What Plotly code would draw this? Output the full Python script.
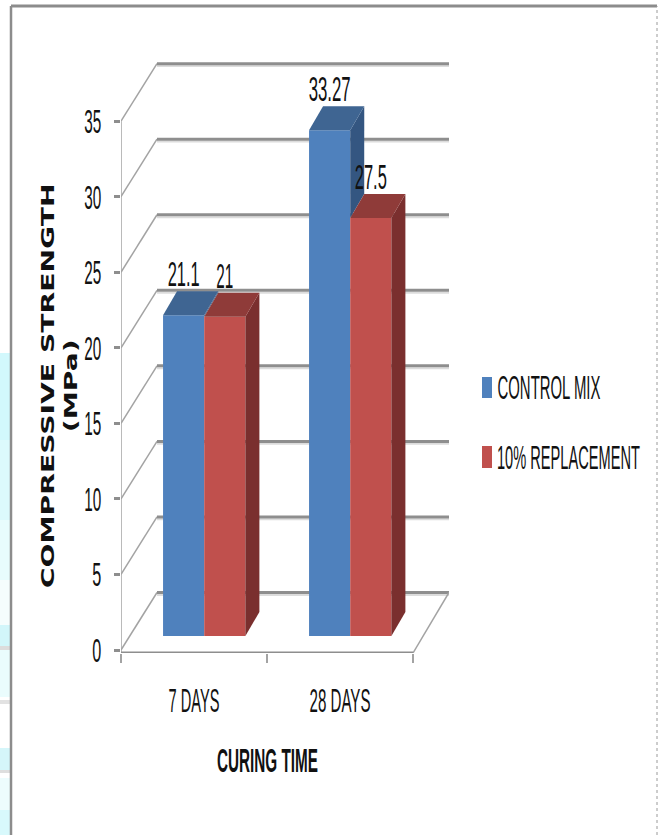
import json

import plotly.graph_objects as go

categories = ["7 DAYS", "28 DAYS"]
control_mix = [21.1, 33.27]
replacement = [21, 27.5]
value_labels_control = ["21.1", "33.27"]
value_labels_replacement = ["21", "27.5"]
y_ticks = [0, 5, 10, 15, 20, 25, 30, 35]

BLUE, BLUE_TOP, BLUE_SIDE = "#4f81bd", "#3f6592", "#345681"
RED, RED_TOP, RED_SIDE = "#c0504d", "#8f3b39", "#7a2f2e"
GRID = "#8e8e8e"
SLANT = "#a3a3a3"
INK = "#111111"
FONT = "Liberation Sans"

# page geometry of the plotting area, in pixels
LEFT, RIGHT, TOP, BOTTOM = 121, 449, 55, 653
PX_X = 146.0    # pixels per category on the front plane
PX_Y = 15.11    # pixels per MPa on the front plane
PX_Y_BAR = 15.2  # pixels per MPa on the column plane
BAR_FLOOR = 636  # pixel row of the column feet

# oblique projection offsets
DEPTH_X, DEPTH_Y = 36 / PX_X, 57.5 / PX_Y
BAR_DX, BAR_DY = 14 / PX_X, 24 / PX_Y_BAR
BAR_W = 0.282
BAR_START = 0.288
CENTERS = [0.5, 1.5]
FLOOR_Y = -0.2
LABEL_DROP = 0.25

# horizontal extent each label is squeezed or stretched to, in pixels
TEXT_WIDTHS = {
    "0": 9, "5": 9, "10": 17, "15": 17, "20": 17, "25": 17, "30": 17, "35": 17,
    "7 DAYS": 51, "28 DAYS": 61, "CURING TIME": 101,
    "21.1": 32, "21": 17, "33.27": 42, "27.5": 32,
    "CONTROL MIX": 103, "10% REPLACEMENT": 143,
    "COMPRESSIVE STRENGTH(MPa)": 405,
}

# washed-out band colours down the left page margin: top, bottom, colour
MARGIN_BANDS = [
    (353, 440, "#d2f8fc"), (440, 520, "#dcfafc"), (520, 580, "#e8fcfd"), (580, 625, "#f5fdfd"),
    (625, 646, "#d2f6fa"), (646, 650, "#dcdcdc"), (650, 697, "#eafcfd"), (700, 704, "#e2e2e2"),
    (748, 770, "#d5f6fa"), (770, 773, "#dedede"), (778, 810, "#edfcfd"), (810, 835, "#d8f9fc"),
]


def page_x(px):
    return (px - LEFT) / (RIGHT - LEFT)


def page_y(px):
    return (BOTTOM - px) / (BOTTOM - TOP)


fig = go.Figure()


def wall_line(xs, ys, color, width):
    fig.add_trace(go.Scatter(x=xs, y=ys, mode="lines", line=dict(color=color, width=width),
                             hoverinfo="skip", showlegend=False, cliponaxis=False))


def face(xs, ys, color):
    fig.add_trace(go.Scatter(x=xs, y=ys, xaxis="x2", yaxis="y2", mode="lines", fill="toself",
                             fillcolor=color, line=dict(width=0), hoverinfo="skip",
                             showlegend=False, cliponaxis=False))


# back wall: gridlines with their soft underside, slanted edges, then the axis lines
for v in y_ticks:
    wall_line([DEPTH_X, 2 + DEPTH_X], [v + DEPTH_Y - 0.16, v + DEPTH_Y - 0.16], "#dcdcdc", 2)
for v in y_ticks:
    wall_line([0, DEPTH_X], [v, v + DEPTH_Y], SLANT, 1.5)
    wall_line([DEPTH_X, 2 + DEPTH_X], [v + DEPTH_Y, v + DEPTH_Y], GRID, 3)
wall_line([2, 2 + DEPTH_X], [FLOOR_Y, DEPTH_Y], SLANT, 1.5)
wall_line([0, 0], [FLOOR_Y, 35], SLANT, 1.5)
wall_line([0, 2], [FLOOR_Y, FLOOR_Y], GRID, 3)

# front faces of the columns
blue_x = [c - 0.5 + BAR_START + BAR_W / 2 for c in CENTERS]
red_x = [c - 0.5 + BAR_START + 1.5 * BAR_W for c in CENTERS]
fig.add_trace(go.Bar(x=blue_x, y=control_mix, xaxis="x2", yaxis="y2", width=BAR_W,
                     marker=dict(color=BLUE, line=dict(width=0)), name="CONTROL MIX",
                     showlegend=False, cliponaxis=False))
fig.add_trace(go.Bar(x=red_x, y=replacement, xaxis="x2", yaxis="y2", width=BAR_W,
                     marker=dict(color=RED, line=dict(width=0)), name="10% REPLACEMENT",
                     showlegend=False, cliponaxis=False))

# side and top faces of the columns
for i, c in enumerate(CENTERS):
    left = c - 0.5 + BAR_START
    mid = left + BAR_W
    right = mid + BAR_W
    a, b = control_mix[i], replacement[i]
    if a > b:
        face([mid, mid + BAR_DX, mid + BAR_DX, mid],
             [b, b + BAR_DY, a + BAR_DY, a], BLUE_SIDE)
    face([left, left + BAR_DX, mid + BAR_DX, mid], [a, a + BAR_DY, a + BAR_DY, a], BLUE_TOP)
    face([right, right + BAR_DX, right + BAR_DX, right], [0, BAR_DY, b + BAR_DY, b], RED_SIDE)
    face([mid, mid + BAR_DX, right + BAR_DX, right], [b, b + BAR_DY, b + BAR_DY, b], RED_TOP)

# value labels above the columns
label_font = dict(family=FONT, size=35, color=INK)
for xs, vals, labels in [(blue_x, control_mix, value_labels_control),
                         (red_x, replacement, value_labels_replacement)]:
    fig.add_trace(go.Scatter(x=xs, y=[v + BAR_DY - LABEL_DROP for v in vals], xaxis="x2", yaxis="y2",
                             mode="text", text=labels, textposition="top center",
                             textfont=label_font, showlegend=False, hoverinfo="skip",
                             cliponaxis=False))

x_range = [0, (RIGHT - LEFT) / PX_X]
shapes = [
    dict(type="rect", xref="paper", yref="paper", x0=page_x(0), x1=page_x(10), y0=page_y(b), y1=page_y(t),
         fillcolor=col, line=dict(width=0), layer="below")
    for t, b, col in MARGIN_BANDS
]
shapes += [
    dict(type="line", xref="paper", yref="paper", x0=page_x(11), x1=page_x(11), y0=page_y(835), y1=page_y(6),
         line=dict(color="#8c8c8c", width=2.5), layer="below"),
    dict(type="line", xref="paper", yref="paper", x0=page_x(11), x1=page_x(657), y0=page_y(6), y1=page_y(6),
         line=dict(color="#8c8c8c", width=3), layer="below"),
    dict(type="line", xref="paper", yref="paper", x0=page_x(657), x1=page_x(657), y0=page_y(835), y1=page_y(6),
         line=dict(color="#9a9a9a", width=1, dash="dot"), layer="below"),
    dict(type="rect", xref="paper", yref="paper", x0=page_x(482), x1=page_x(492), y0=page_y(398), y1=page_y(377),
         fillcolor=BLUE, line=dict(width=0)),
    dict(type="rect", xref="paper", yref="paper", x0=page_x(482), x1=page_x(492), y0=page_y(468), y1=page_y(446),
         fillcolor=RED, line=dict(width=0)),
]


def page_label(text, cx, cy, size, family=FONT, angle=0):
    return dict(text=text, textangle=angle, xref="paper", yref="paper", x=page_x(cx), y=page_y(cy),
                xanchor="center", yanchor="middle", showarrow=False,
                font=dict(family=family, size=size, color=INK))


fig.update_layout(
    width=658, height=835, autosize=False,
    margin=dict(l=LEFT, r=658 - RIGHT, t=TOP, b=835 - BOTTOM),
    paper_bgcolor="white", plot_bgcolor="rgba(0,0,0,0)",
    barmode="overlay", showlegend=False,
    xaxis=dict(range=x_range, tickvals=CENTERS, ticktext=categories, ticks="", showgrid=False,
               zeroline=False, showline=False, ticklabelstandoff=25,
               tickfont=dict(family=FONT, size=33, color=INK),
               minor=dict(tickvals=[0, 1, 2], ticks="outside", ticklen=9, tickcolor=SLANT, tickwidth=1.5)),
    yaxis=dict(range=[(650 - BOTTOM) / PX_Y, (650 - TOP) / PX_Y], tickvals=y_ticks, ticks="outside",
               ticklen=6, tickwidth=3, tickcolor=GRID, showgrid=False, zeroline=False, showline=False,
               ticklabelstandoff=6, tickfont=dict(family=FONT, size=34, color=INK)),
    xaxis2=dict(range=x_range, overlaying="x", visible=False),
    yaxis2=dict(range=[(BAR_FLOOR - BOTTOM) / PX_Y_BAR, (BAR_FLOOR - TOP) / PX_Y_BAR],
                overlaying="y", visible=False),
    shapes=shapes,
    annotations=[
        page_label("<b>COMPRESSIVE STRENGTH</b><br><b>(MPa)</b>", 59, 386, 18, "DejaVu Sans", -90),
        page_label("<b>CURING TIME</b>", 267, 760, 34),
        page_label("CONTROL MIX", 548.5, 387, 33),
        page_label("10% REPLACEMENT", 568.5, 457, 33),
    ],
)

# condense every label along its own baseline to its set width
fit_text = """
(function () {
  var widths = %s;
  document.querySelectorAll('svg text').forEach(function (t) {
    var key = t.textContent.replace(/\\s+/g, ' ').trim();
    if (!(key in widths)) return;
    var k = widths[key] / t.getBBox().width;
    var ox = parseFloat(t.getAttribute('x') || 0);
    var old = t.getAttribute('transform') || '';
    t.setAttribute('transform', old + ' translate(' + ox + ',0) scale(' + k + ',1) translate(' + (-ox) + ',0)');
  });
})();
""" % json.dumps(TEXT_WIDTHS)

fig.write_html("out.html", post_script=fit_text)
